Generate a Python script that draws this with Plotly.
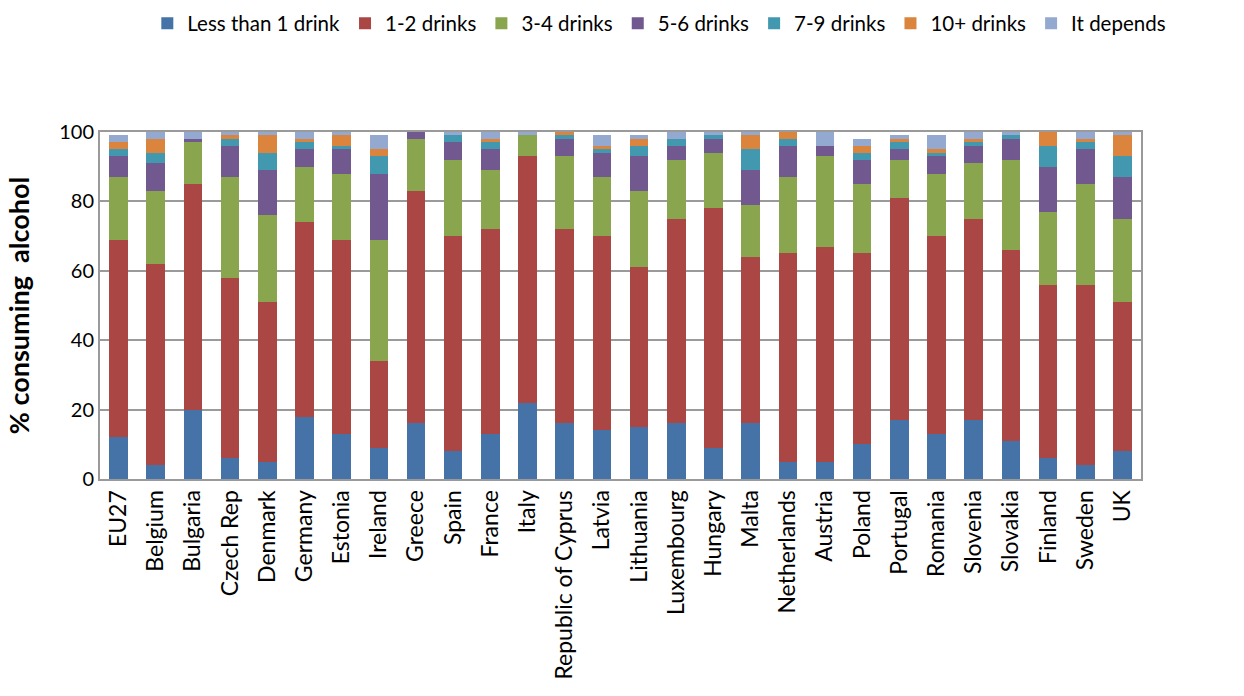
import plotly.graph_objects as go

countries = ["EU27", "Belgium", "Bulgaria", "Czech Rep", "Denmark", "Germany", "Estonia",
             "Ireland", "Greece", "Spain", "France", "Italy", "Republic of Cyprus", "Latvia",
             "Lithuania", "Luxembourg", "Hungary", "Malta", "Netherlands", "Austria", "Poland",
             "Portugal", "Romania", "Slovenia", "Slovakia", "Finland", "Sweden", "UK"]

less_than_1 = [12, 4, 20, 6, 5, 18, 13, 9, 16, 8, 13, 22, 16, 14, 15, 16, 9, 16, 5, 5, 10, 17, 13, 17, 11, 6, 4, 8]
drinks_1_2 = [57, 58, 65, 52, 46, 56, 56, 25, 67, 62, 59, 71, 56, 56, 46, 59, 69, 48, 60, 62, 55, 64, 57, 58, 55, 50, 52, 43]
drinks_3_4 = [18, 21, 12, 29, 25, 16, 19, 35, 15, 22, 17, 6, 21, 17, 22, 17, 16, 15, 22, 26, 20, 11, 18, 16, 26, 21, 29, 24]
drinks_5_6 = [6, 8, 1, 9, 13, 5, 7, 19, 2, 5, 6, 0, 5, 7, 10, 4, 4, 10, 9, 3, 7, 3, 5, 5, 6, 13, 10, 12]
drinks_7_9 = [2, 3, 0, 2, 5, 2, 1, 5, 0, 2, 2, 0, 1, 1, 3, 2, 1, 6, 2, 0, 2, 2, 1, 1, 1, 6, 2, 6]
drinks_10p = [2, 4, 0, 1, 5, 1, 3, 2, 0, 0, 1, 0, 1, 1, 2, 0, 0, 4, 2, 0, 2, 1, 1, 1, 0, 4, 1, 6]
it_depends = [2, 2, 2, 1, 1, 2, 1, 4, 0, 1, 2, 1, 0.5, 3, 1, 2, 1, 1, 0.5, 4, 2, 1, 4, 2, 1, 0, 2, 1]

series = [
    ("Less than 1 drink", less_than_1, "#4572A7"),
    ("1-2 drinks", drinks_1_2, "#AA4643"),
    ("3-4 drinks", drinks_3_4, "#89A54E"),
    ("5-6 drinks", drinks_5_6, "#71588F"),
    ("7-9 drinks", drinks_7_9, "#4198AF"),
    ("10+ drinks", drinks_10p, "#DB843D"),
    ("It depends", it_depends, "#93A9CF"),
]

fig = go.Figure()
for name, vals, col in series:
    fig.add_trace(go.Bar(x=countries, y=vals, name=name, marker_color=col,
                         marker_line_width=0, width=0.5))

font_family = "Liberation Sans Narrow, Lato, Liberation Sans, sans-serif"
fig.update_layout(
    barmode="stack",
    width=1244, height=696,
    paper_bgcolor="white", plot_bgcolor="white",
    margin=dict(l=100, r=103, t=132, b=217),
    font=dict(family=font_family, size=18, color="black"),
    showlegend=True,
    legend=dict(orientation="h", x=0.53, xanchor="center", y=0.995, yanchor="top",
                xref="container", yref="container",
                font=dict(size=20.5, family=font_family), traceorder="normal",
                itemwidth=30),
)
fig.update_yaxes(range=[0, 100], tickvals=[0, 20, 40, 60, 80, 100],
                 gridcolor="#9a9a9a", gridwidth=2, showline=True, linecolor="#9a9a9a",
                 linewidth=2, mirror=True, ticks="", tickfont=dict(size=20),
                 title=dict(text="<b>% consuming  alcohol</b>", font=dict(size=27), standoff=22),
                 zeroline=False)
fig.update_xaxes(tickangle=-90, tickfont=dict(size=23), showline=True, linecolor="#9a9a9a",
                 linewidth=2, mirror=True, ticks="")
fig.write_html("out.html")
